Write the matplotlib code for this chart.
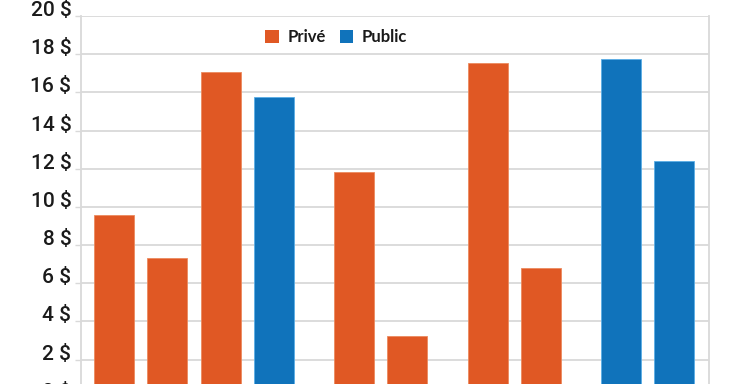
import matplotlib
matplotlib.use("Agg")
import matplotlib.pyplot as plt
from matplotlib.patches import Patch

# Data
series_names = ["Privé", "Public"]
bar_series = ["Privé", "Privé", "Privé", "Public",
              "Privé", "Privé",
              "Privé", "Privé",
              "Public", "Public"]
bar_values = [9.55, 7.32, 17.07, 15.77, 11.82, 3.24, 17.56, 6.80, 17.73, 12.39]
group_sizes = [4, 2, 2, 2]
yticks = [0, 2, 4, 6, 8, 10, 12, 14, 16, 18, 20]
ytick_labels = [f"{v} $" for v in yticks]

colors = {"Privé": "#E05824", "Public": "#1073BB"}
edge_colors = {"Privé": "#EC8A5E", "Public": "#5AAEE6"}

W, H, DPI = 735, 384, 100
fig = plt.figure(figsize=(W / DPI, H / DPI), dpi=DPI)
fig.patch.set_facecolor("white")

left_px, right_px = 81, 709
top_px, zero_px = 16, 397.8
ax = fig.add_axes([left_px / W, 1 - zero_px / H,
                   (right_px - left_px) / W, (zero_px - top_px) / H])

# positions: groups separated by an extra half slot
positions = []
p = 0.0
for gs in group_sizes:
    for _ in range(gs):
        positions.append(p)
        p += 1.0
    p += 0.5

grid_c = "#D9D9D9"
ax.bar(positions, bar_values, width=0.75,
       color=[colors[s] for s in bar_series],
       edgecolor=[edge_colors[s] for s in bar_series], linewidth=0.6, zorder=3)

ax.set_ylim(0, 20)
ax.set_xlim(-0.617, positions[-1] + 0.65)
ax.set_yticks(yticks)
ax.set_yticklabels(ytick_labels, fontsize=15, family=["Roboto", "DejaVu Sans"],
                   fontweight="medium", color="#1a1a1a")
for lab in ax.get_yticklabels():
    lab.set_verticalalignment("baseline")
ax.tick_params(axis="y", length=4.5, width=1.0, color=grid_c, pad=2.5)
ax.set_xticks([])
ax.yaxis.grid(True, color=grid_c, linewidth=1.3, zorder=0)
ax.set_axisbelow(True)
for side in ["left", "right"]:
    ax.spines[side].set_color(grid_c)
    ax.spines[side].set_linewidth(1.3)
for side in ["top", "bottom"]:
    ax.spines[side].set_visible(False)

handles = [Patch(facecolor=colors[n], edgecolor="none", label=n) for n in series_names]
leg = fig.legend(handles=handles, loc="center left",
                 bbox_to_anchor=(252 / W, 1 - 37 / H), ncol=2, frameon=False,
                 prop={"family": ["Lato", "DejaVu Sans"], "size": 12, "weight": "bold"},
                 handlelength=0.8, handleheight=0.8, handletextpad=0.55,
                 columnspacing=0.8, borderpad=0.3)
for t in leg.get_texts():
    t.set_color("#1a1a1a")

fig.savefig("out.png", dpi=DPI, facecolor="white")
